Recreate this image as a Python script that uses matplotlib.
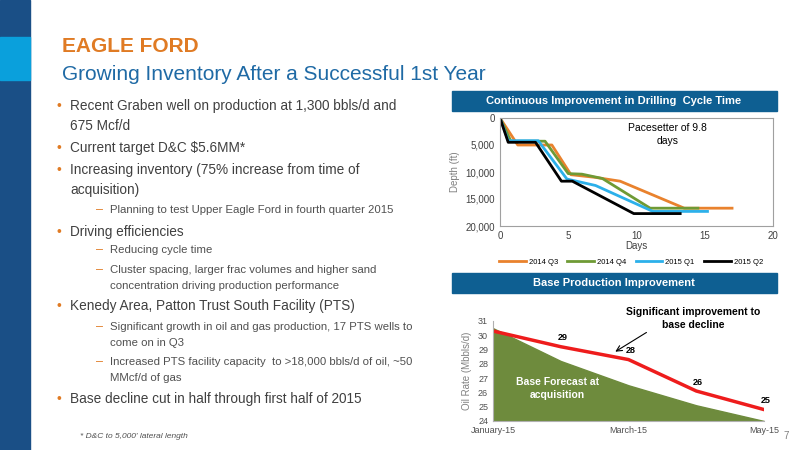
import matplotlib.pyplot as plt
from matplotlib.patches import Rectangle

W, H = 800, 450

# drilling cycle data (days, depth ft)
q3_days = [0, 1.3, 3.8, 5.2, 7.0, 8.8, 13.5, 17.0]
q3_depth = [0, 5000, 5000, 10500, 11000, 11700, 16700, 16700]
q4_days = [0, 0.8, 3.3, 5.0, 6.0, 7.5, 11.0, 14.5]
q4_depth = [0, 4300, 4300, 10300, 10400, 11200, 16700, 16700]
q1_days = [0, 0.6, 2.8, 4.9, 7.0, 11.2, 15.2]
q1_depth = [0, 4200, 4200, 11300, 12500, 17300, 17300]
q2_days = [0, 0.6, 2.6, 4.5, 5.3, 9.8, 13.2]
q2_depth = [0, 4500, 4500, 11700, 11700, 17700, 17700]

# base production data
months = [0, 1, 2, 3, 4]
month_labels = ["January-15", "March-15", "May-15"]
forecast = [30.5, 28.2, 26.5, 25.1, 24.0]
actual = [30.3, 29.2, 28.3, 26.1, 24.8]
actual_labels = ["", "29", "28", "26", "25"]


def px_axes(x0, y0, x1, y1):
    return fig.add_axes([x0 / W, 1 - y1 / H, (x1 - x0) / W, (y1 - y0) / H])


fig = plt.figure(figsize=(8, 4.5), dpi=100)
plt.rcParams['font.family'] = ['Liberation Sans', 'DejaVu Sans']

# left side bar
fig.patches.append(Rectangle((0, 0), 30 / W, 1, transform=fig.transFigure, color='#1a4f86'))
fig.patches.append(Rectangle((0, 1 - 80 / H), 30 / W, 43 / H, transform=fig.transFigure, color='#0aa0dc'))

fig.text(62 / W, 1 - 46 / H, "EAGLE FORD", color='#e07b24', fontsize=15, fontweight='bold', va='center')
fig.text(62 / W, 1 - 74 / H, "Growing Inventory After a Successful 1st Year", color='#1f6aa5', fontsize=15, va='center')

bullets = [
    (106, 0, "Recent Graben well on production at 1,300 bbls/d and"),
    (126, 0, None, "675 Mcf/d"),
    (148, 0, "Current target D&C $5.6MM*"),
    (170, 0, "Increasing inventory (75% increase from time of"),
    (190, 0, None, "acquisition)"),
    (210, 1, "Planning to test Upper Eagle Ford in fourth quarter 2015"),
    (232, 0, "Driving efficiencies"),
    (250, 1, "Reducing cycle time"),
    (270, 1, "Cluster spacing, larger frac volumes and higher sand"),
    (286, 1, None, "concentration driving production performance"),
    (306, 0, "Kenedy Area, Patton Trust South Facility (PTS)"),
    (327, 1, "Significant growth in oil and gas production, 17 PTS wells to"),
    (343, 1, None, "come on in Q3"),
    (362, 1, "Increased PTS facility capacity  to >18,000 bbls/d of oil, ~50"),
    (378, 1, None, "MMcf/d of gas"),
    (399, 0, "Base decline cut in half through first half of 2015"),
]
for item in bullets:
    y, lvl = item[0], item[1]
    txt = item[2] if len(item) == 3 else item[3]
    cont = len(item) == 4
    if lvl == 0:
        if not cont:
            fig.text(56 / W, 1 - y / H, "•", color='#e07b24', fontsize=10, va='center')
        fig.text(70 / W, 1 - y / H, txt, color='#404040', fontsize=9.8, va='center')
    else:
        if not cont:
            fig.text(96 / W, 1 - y / H, "–", color='#e07b24', fontsize=9, va='center')
        fig.text(110 / W, 1 - y / H, txt, color='#505050', fontsize=8.2, va='center')

fig.text(80 / W, 1 - 436 / H, "* D&C to 5,000' lateral length", color='#505050', fontsize=6, style='italic', va='center')
fig.text(783 / W, 1 - 436 / H, "7", color='#808080', fontsize=7, va='center')

# banners
for y0, title in [(91, "Continuous Improvement in Drilling  Cycle Time"), (273, "Base Production Improvement")]:
    fig.patches.append(Rectangle((452 / W, 1 - (y0 + 20) / H), 325 / W, 20 / H,
                                 transform=fig.transFigure, color='#0e5f92'))
    fig.text(614 / W, 1 - (y0 + 10) / H, title, color='white', fontsize=8, fontweight='bold',
             ha='center', va='center')

# top chart
ax1 = px_axes(500, 118, 773, 226)
ax1.plot(q3_days, q3_depth, color='#e9822d', lw=2, label='2014 Q3')
ax1.plot(q4_days, q4_depth, color='#6f9a35', lw=2, label='2014 Q4')
ax1.plot(q1_days, q1_depth, color='#2cb0ea', lw=2, label='2015 Q1')
ax1.plot(q2_days, q2_depth, color='black', lw=2, label='2015 Q2')
ax1.set_xlim(0, 20)
ax1.set_ylim(20000, 0)
ax1.set_xticks([0, 5, 10, 15, 20])
ax1.set_yticks([0, 5000, 10000, 15000, 20000])
ax1.set_yticklabels(["0", "5,000", "10,000", "15,000", "20,000"])
ax1.tick_params(labelsize=7, colors='#404040', length=0)
for s in ax1.spines.values():
    s.set_color('#a0a0a0')
ax1.set_xlabel("Days", fontsize=7, color='#404040', labelpad=0)
ax1.set_ylabel("Depth (ft)", fontsize=7, color='#808080')
ax1.text(12.3, 3000, "Pacesetter of 9.8\ndays", fontsize=7.5, ha='center', va='center', linespacing=1.4)
ax1.legend(loc='upper center', bbox_to_anchor=(0.48, -0.24), ncol=4, fontsize=5.5, frameon=False,
           handlelength=3.5, columnspacing=1.2, handletextpad=0.4)

# bottom chart
ax2 = px_axes(493, 321, 764, 421)
ax2.fill_between(months, forecast, 24, color='#6e8b3d')
ax2.plot(months, actual, color='#ee1c1c', lw=2.5)
for m, v, lab in zip(months, actual, actual_labels):
    if lab:
        ax2.text(m + 0.03, v + 0.45, lab, fontsize=6.5, fontweight='bold', ha='center')
ax2.set_xlim(0, 4)
ax2.set_ylim(24, 31)
ax2.set_xticks([0, 2, 4])
ax2.set_xticklabels(month_labels)
ax2.set_yticks(range(24, 32))
ax2.tick_params(labelsize=6.5, colors='#505050', length=0)
for side in ['top', 'right']:
    ax2.spines[side].set_visible(False)
for side in ['left', 'bottom']:
    ax2.spines[side].set_color('#b0b0b0')
ax2.set_ylabel("Oil Rate (Mbbls/d)", fontsize=7, color='#808080')
ax2.text(0.95, 26.3, "Base Forecast at\nacquisition", color='white', fontsize=7.5, fontweight='bold',
         ha='center', va='center', linespacing=1.4)
ax2.text(2.95, 31.2, "Significant improvement to\nbase decline", fontsize=7.5, fontweight='bold',
         ha='center', va='center', linespacing=1.4, clip_on=False)
ax2.annotate("", xy=(1.77, 28.75), xytext=(2.3, 30.3),
             arrowprops=dict(arrowstyle='->', color='black', lw=0.8), annotation_clip=False)

fig.savefig("out.png", dpi=100)
